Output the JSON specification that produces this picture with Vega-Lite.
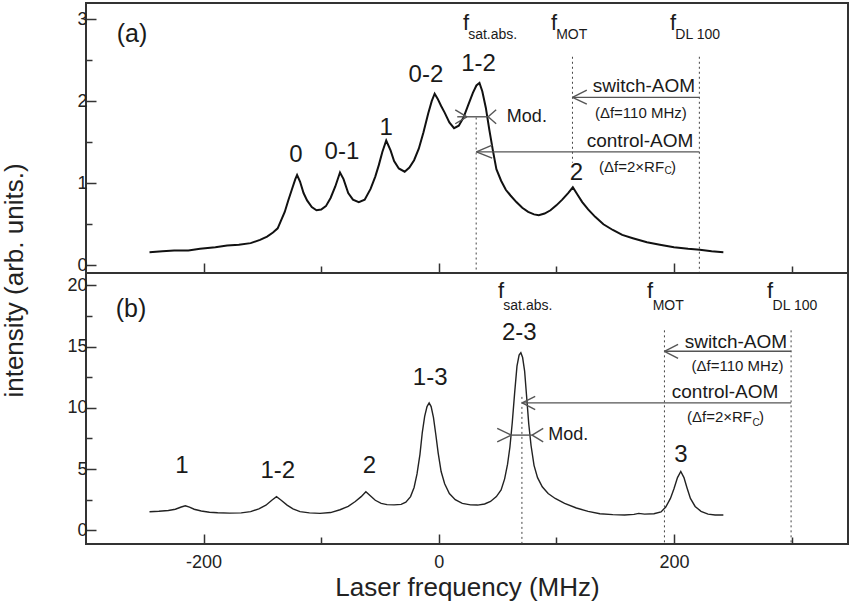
{
  "$schema": "https://vega.github.io/schema/vega-lite/v6.json",
  "padding": {"left": 0, "top": 2, "right": 0, "bottom": 0},
  "spacing": 0,
  "bounds": "flush",
  "config": {
    "font": "Liberation Sans",
    "view": {"stroke": "#333", "strokeWidth": 2},
    "axis": {
      "domain": false,
      "grid": false,
      "tickColor": "#333",
      "tickWidth": 1.5,
      "tickSize": -9,
      "labelFont": "Liberation Sans",
      "labelFontSize": 18,
      "labelColor": "#222",
      "titleFont": "Liberation Sans",
      "titleFontSize": 26,
      "titleFontWeight": "normal",
      "titleColor": "#222"
    },
    "text": {"font": "Liberation Sans", "color": "#1a1a1a"}
  },
  "datasets": {
    "specA": [
      {"f": -246, "v": 0.16}, {"f": -235, "v": 0.17}, {"f": -225, "v": 0.18}, {"f": -213, "v": 0.18},
      {"f": -203, "v": 0.2}, {"f": -190, "v": 0.22}, {"f": -180, "v": 0.24}, {"f": -170, "v": 0.25},
      {"f": -160, "v": 0.27}, {"f": -152, "v": 0.31}, {"f": -146, "v": 0.35}, {"f": -141, "v": 0.4},
      {"f": -137, "v": 0.45}, {"f": -134, "v": 0.55}, {"f": -131, "v": 0.65}, {"f": -128, "v": 0.79},
      {"f": -125, "v": 0.92}, {"f": -122, "v": 1.05}, {"f": -120.5, "v": 1.1}, {"f": -118, "v": 1.02},
      {"f": -115, "v": 0.88}, {"f": -112, "v": 0.79}, {"f": -108, "v": 0.71}, {"f": -104, "v": 0.67},
      {"f": -100, "v": 0.68}, {"f": -96, "v": 0.72}, {"f": -92, "v": 0.82}, {"f": -88, "v": 0.96},
      {"f": -84, "v": 1.13}, {"f": -81, "v": 1.05}, {"f": -77, "v": 0.88}, {"f": -73, "v": 0.8},
      {"f": -68, "v": 0.77}, {"f": -63, "v": 0.8}, {"f": -58, "v": 0.93}, {"f": -54, "v": 1.08},
      {"f": -51, "v": 1.22}, {"f": -48, "v": 1.38}, {"f": -44.7, "v": 1.52}, {"f": -41, "v": 1.4},
      {"f": -38, "v": 1.27}, {"f": -34, "v": 1.18}, {"f": -29, "v": 1.14}, {"f": -25, "v": 1.19},
      {"f": -21, "v": 1.28}, {"f": -17, "v": 1.42}, {"f": -13, "v": 1.62}, {"f": -9, "v": 1.85},
      {"f": -6, "v": 2.0}, {"f": -3.5, "v": 2.09}, {"f": -1, "v": 2.03}, {"f": 2, "v": 1.94},
      {"f": 5, "v": 1.86}, {"f": 9, "v": 1.74}, {"f": 13, "v": 1.67}, {"f": 17, "v": 1.7},
      {"f": 21, "v": 1.8}, {"f": 25, "v": 1.95}, {"f": 29, "v": 2.1}, {"f": 32, "v": 2.19},
      {"f": 34.6, "v": 2.22}, {"f": 37, "v": 2.12}, {"f": 40, "v": 1.92}, {"f": 43, "v": 1.65},
      {"f": 46, "v": 1.4}, {"f": 49, "v": 1.17}, {"f": 53, "v": 1.03}, {"f": 57, "v": 0.92},
      {"f": 61, "v": 0.85}, {"f": 66, "v": 0.77}, {"f": 71, "v": 0.7}, {"f": 76, "v": 0.65},
      {"f": 81, "v": 0.62}, {"f": 85, "v": 0.61}, {"f": 90, "v": 0.63}, {"f": 95, "v": 0.67},
      {"f": 100, "v": 0.73}, {"f": 105, "v": 0.8}, {"f": 110, "v": 0.88}, {"f": 114, "v": 0.95},
      {"f": 118, "v": 0.86}, {"f": 122, "v": 0.77}, {"f": 127, "v": 0.68}, {"f": 133, "v": 0.59},
      {"f": 140, "v": 0.5}, {"f": 148, "v": 0.43}, {"f": 156, "v": 0.37}, {"f": 165, "v": 0.33},
      {"f": 177, "v": 0.28}, {"f": 188, "v": 0.25}, {"f": 200, "v": 0.22}, {"f": 212, "v": 0.2},
      {"f": 222, "v": 0.19}, {"f": 232, "v": 0.17}, {"f": 242, "v": 0.16}
    ],
    "specB": [
      {"f": -246, "v": 1.52}, {"f": -238, "v": 1.55}, {"f": -230, "v": 1.62}, {"f": -224, "v": 1.72},
      {"f": -219, "v": 1.9}, {"f": -215.5, "v": 2.0}, {"f": -212, "v": 1.9}, {"f": -208, "v": 1.72},
      {"f": -202, "v": 1.58}, {"f": -195, "v": 1.48}, {"f": -188, "v": 1.43}, {"f": -178, "v": 1.4},
      {"f": -168, "v": 1.42}, {"f": -160, "v": 1.52}, {"f": -153, "v": 1.75}, {"f": -147, "v": 2.05},
      {"f": -142, "v": 2.45}, {"f": -138, "v": 2.74}, {"f": -134, "v": 2.45}, {"f": -129, "v": 2.06},
      {"f": -124, "v": 1.75}, {"f": -118, "v": 1.52}, {"f": -110, "v": 1.42}, {"f": -101, "v": 1.38},
      {"f": -92, "v": 1.45}, {"f": -84, "v": 1.68}, {"f": -77, "v": 1.95}, {"f": -71, "v": 2.35},
      {"f": -66, "v": 2.75}, {"f": -62, "v": 3.15}, {"f": -58, "v": 2.8}, {"f": -54, "v": 2.45},
      {"f": -49, "v": 2.2}, {"f": -44, "v": 2.1}, {"f": -38, "v": 2.08}, {"f": -32, "v": 2.12},
      {"f": -28, "v": 2.3}, {"f": -24, "v": 2.75}, {"f": -21, "v": 3.5}, {"f": -18.5, "v": 4.6},
      {"f": -16, "v": 6.2}, {"f": -14, "v": 8.0}, {"f": -12, "v": 9.3}, {"f": -10, "v": 10.1},
      {"f": -8.2, "v": 10.4}, {"f": -6.5, "v": 10.1}, {"f": -4.5, "v": 9.2}, {"f": -2.5, "v": 7.8},
      {"f": -0.5, "v": 6.3}, {"f": 2, "v": 4.8}, {"f": 5, "v": 3.8}, {"f": 9, "v": 3.0},
      {"f": 14, "v": 2.5}, {"f": 20, "v": 2.2}, {"f": 27, "v": 2.08}, {"f": 33, "v": 2.06},
      {"f": 39, "v": 2.15}, {"f": 44, "v": 2.35}, {"f": 49, "v": 2.75}, {"f": 53, "v": 3.3},
      {"f": 56, "v": 4.2}, {"f": 58.5, "v": 5.4}, {"f": 60.5, "v": 6.8}, {"f": 62.5, "v": 8.8},
      {"f": 64.5, "v": 11.2}, {"f": 66.5, "v": 13.4}, {"f": 68.3, "v": 14.3}, {"f": 69.8, "v": 14.5},
      {"f": 71.3, "v": 14.1}, {"f": 73, "v": 13.0}, {"f": 74.8, "v": 10.8}, {"f": 76.5, "v": 8.7},
      {"f": 78.5, "v": 6.9}, {"f": 81, "v": 5.3}, {"f": 84, "v": 4.3}, {"f": 88, "v": 3.55},
      {"f": 93, "v": 3.0}, {"f": 99, "v": 2.6}, {"f": 107, "v": 2.2}, {"f": 117, "v": 1.82},
      {"f": 127, "v": 1.55}, {"f": 137, "v": 1.35}, {"f": 148, "v": 1.28}, {"f": 158, "v": 1.25},
      {"f": 166, "v": 1.3}, {"f": 170, "v": 1.38}, {"f": 175, "v": 1.32}, {"f": 183, "v": 1.35},
      {"f": 189, "v": 1.5}, {"f": 193, "v": 1.9}, {"f": 197, "v": 2.6}, {"f": 200, "v": 3.4},
      {"f": 203, "v": 4.3}, {"f": 205.8, "v": 4.8}, {"f": 208.5, "v": 4.3}, {"f": 211, "v": 3.5},
      {"f": 214, "v": 2.6}, {"f": 218, "v": 1.95}, {"f": 223, "v": 1.55}, {"f": 229, "v": 1.32},
      {"f": 235, "v": 1.25}, {"f": 242, "v": 1.25}
    ],
    "dotA": [
      {"f": 31.8, "v": 1.8, "v2": -0.094},
      {"f": 113.7, "v": 2.54, "v2": 1.25},
      {"f": 221.6, "v": 2.54, "v2": -0.094}
    ],
    "dotB": [
      {"f": 70.7, "v": 10.89, "v2": -1.117},
      {"f": 191.9, "v": 16.32, "v2": -1.117},
      {"f": 299.6, "v": 16.32, "v2": -1.117}
    ],
    "segA": [
      {"f": 113.7, "v": 2.045, "f2": 221.6, "v2": 2.045},
      {"f": 113.7, "v": 2.045, "f2": 125.9, "v2": 2.134},
      {"f": 113.7, "v": 2.045, "f2": 125.9, "v2": 1.963},
      {"f": 32.0, "v": 1.382, "f2": 221.6, "v2": 1.382},
      {"f": 32.0, "v": 1.382, "f2": 45.4, "v2": 1.463},
      {"f": 32.0, "v": 1.382, "f2": 45.4, "v2": 1.305},
      {"f": 15.7, "v": 1.809, "f2": 42.0, "v2": 1.809},
      {"f": 23.9, "v": 1.809, "f2": 14.0, "v2": 1.894},
      {"f": 23.9, "v": 1.809, "f2": 14.0, "v2": 1.724},
      {"f": 42.0, "v": 1.809, "f2": 48.8, "v2": 1.894},
      {"f": 42.0, "v": 1.809, "f2": 48.8, "v2": 1.724}
    ],
    "segB": [
      {"f": 191.9, "v": 14.61, "f2": 299.6, "v2": 14.61},
      {"f": 191.9, "v": 14.61, "f2": 203.5, "v2": 15.18},
      {"f": 191.9, "v": 14.61, "f2": 203.5, "v2": 14.04},
      {"f": 70.9, "v": 10.4, "f2": 299.6, "v2": 10.4},
      {"f": 70.9, "v": 10.4, "f2": 82.0, "v2": 10.94},
      {"f": 70.9, "v": 10.4, "f2": 82.0, "v2": 9.84},
      {"f": 61.6, "v": 7.77, "f2": 79.4, "v2": 7.77},
      {"f": 61.6, "v": 7.77, "f2": 49.7, "v2": 8.32},
      {"f": 61.6, "v": 7.77, "f2": 49.7, "v2": 7.22},
      {"f": 79.4, "v": 7.77, "f2": 88.8, "v2": 8.32},
      {"f": 79.4, "v": 7.77, "f2": 88.8, "v2": 7.22}
    ],
    "textA": [
      {"f": -121.4, "v": 1.26, "label": "0", "role": "peak"},
      {"f": -82.4, "v": 1.29, "label": "0-1", "role": "peak"},
      {"f": -44.7, "v": 1.585, "label": "1", "role": "peak"},
      {"f": -10.9, "v": 2.235, "label": "0-2", "role": "peak"},
      {"f": 33.8, "v": 2.366, "label": "1-2", "role": "peak"},
      {"f": 117.1, "v": 1.037, "label": "2", "role": "peak"},
      {"f": -260.9, "v": 2.726, "label": "(a)", "role": "panel"},
      {"f": 23.3, "v": 2.866, "label": "f", "role": "freq"},
      {"f": 98.1, "v": 2.866, "label": "f", "role": "freq"},
      {"f": 199.3, "v": 2.866, "label": "f", "role": "freq"},
      {"f": 25.0, "v": 2.756, "label": "sat.abs.", "role": "sub"},
      {"f": 99.8, "v": 2.762, "label": "MOT", "role": "sub"},
      {"f": 201.2, "v": 2.762, "label": "DL 100", "role": "sub"},
      {"f": 218.0, "v": 2.113, "label": "switch-AOM", "role": "note"},
      {"f": 216.5, "v": 1.443, "label": "control-AOM", "role": "note"},
      {"f": 210.9, "v": 1.86, "label": "(Δf=110 MHz)", "role": "small"},
      {"f": 191.6, "v": 1.2, "label": "(Δf=2×RF", "role": "small"},
      {"f": 197.5, "v": 1.2, "label": ")", "role": "close"},
      {"f": 192.0, "v": 1.146, "label": "C", "role": "subc"},
      {"f": 57.9, "v": 1.809, "label": "Mod.", "role": "mod"}
    ],
    "textB": [
      {"f": -218.4, "v": 4.645, "label": "1", "role": "peak"},
      {"f": -136.9, "v": 4.24, "label": "1-2", "role": "peak"},
      {"f": -59.0, "v": 4.645, "label": "2", "role": "peak"},
      {"f": -7.3, "v": 11.84, "label": "1-3", "role": "peak"},
      {"f": 68.5, "v": 15.51, "label": "2-3", "role": "peak"},
      {"f": 205.9, "v": 5.59, "label": "3", "role": "peak"},
      {"f": -261.7, "v": 17.42, "label": "(b)", "role": "panel"},
      {"f": 52.9, "v": 18.93, "label": "f", "role": "freq"},
      {"f": 179.7, "v": 18.93, "label": "f", "role": "freq"},
      {"f": 281.7, "v": 18.93, "label": "f", "role": "freq"},
      {"f": 54.9, "v": 17.95, "label": "sat.abs.", "role": "sub"},
      {"f": 181.9, "v": 17.95, "label": "MOT", "role": "sub"},
      {"f": 283.9, "v": 17.95, "label": "DL 100", "role": "sub"},
      {"f": 296.2, "v": 14.86, "label": "switch-AOM", "role": "note"},
      {"f": 288.8, "v": 10.81, "label": "control-AOM", "role": "note"},
      {"f": 293.1, "v": 13.41, "label": "(Δf=110 MHz)", "role": "small"},
      {"f": 266.4, "v": 9.21, "label": "(Δf=2×RF", "role": "small"},
      {"f": 272.4, "v": 9.21, "label": ")", "role": "close"},
      {"f": 266.8, "v": 8.77, "label": "C", "role": "subc"},
      {"f": 93.0, "v": 7.77, "label": "Mod.", "role": "mod"}
    ]
  },
  "vconcat": [
    {
      "width": 762,
      "height": 270,
      "encoding": {
        "x": {
          "field": "f",
          "type": "quantitative",
          "scale": {"domain": [-300, 348], "nice": false, "zero": false},
          "axis": {
            "title": null,
            "labels": false,
            "values": [-200, -100, 0, 100, 200, 300],
            "tickSize": {"condition": {"test": "datum.value % 200 == 0", "value": -10}, "value": -7}
          }
        },
        "y": {
          "field": "v",
          "type": "quantitative",
          "scale": {"domain": [-0.094, 3.195], "nice": false, "zero": false},
          "axis": {
            "title": "intensity (arb. units.)",
            "values": [0, 0.5, 1, 1.5, 2, 2.5, 3],
            "labelExpr": "datum.value % 1 == 0 ? format(datum.value, 'd') : ''",
            "tickSize": {"condition": {"test": "datum.value % 1 == 0", "value": -10}, "value": -6},
            "labelPadding": 9,
            "titleX": -59,
            "titleY": 277,
            "titleAlign": "center",
            "titleBaseline": "bottom"
          }
        }
      },
      "layer": [
        {"data": {"name": "specA"}, "mark": {"type": "line", "color": "#111", "strokeWidth": 2}, "encoding": {}},
        {"data": {"name": "dotA"}, "mark": {"type": "rule", "color": "#444", "strokeWidth": 1, "strokeDash": [2, 3]}, "encoding": {"y2": {"field": "v2"}}},
        {"data": {"name": "segA"}, "mark": {"type": "rule", "color": "#555", "strokeWidth": 1.4}, "encoding": {"x2": {"field": "f2"}, "y2": {"field": "v2"}}},
        {"data": {"name": "textA"}, "transform": [{"filter": "datum.role == 'peak'"}], "mark": {"type": "text", "fontSize": 24, "align": "center", "baseline": "alphabetic"}, "encoding": {"text": {"field": "label"}}},
        {"data": {"name": "textA"}, "transform": [{"filter": "datum.role == 'panel'"}], "mark": {"type": "text", "fontSize": 25, "align": "center", "baseline": "alphabetic"}, "encoding": {"text": {"field": "label"}}},
        {"data": {"name": "textA"}, "transform": [{"filter": "datum.role == 'freq'"}], "mark": {"type": "text", "fontSize": 22, "align": "center", "baseline": "alphabetic"}, "encoding": {"text": {"field": "label"}}},
        {"data": {"name": "textA"}, "transform": [{"filter": "datum.role == 'sub'"}], "mark": {"type": "text", "fontSize": 14, "align": "left", "baseline": "alphabetic"}, "encoding": {"text": {"field": "label"}}},
        {"data": {"name": "textA"}, "transform": [{"filter": "datum.role == 'note'"}], "mark": {"type": "text", "fontSize": 19, "align": "right", "baseline": "alphabetic"}, "encoding": {"text": {"field": "label"}}},
        {"data": {"name": "textA"}, "transform": [{"filter": "datum.role == 'small'"}], "mark": {"type": "text", "fontSize": 15, "align": "right", "baseline": "middle"}, "encoding": {"text": {"field": "label"}}},
        {"data": {"name": "textA"}, "transform": [{"filter": "datum.role == 'close'"}], "mark": {"type": "text", "fontSize": 15, "align": "left", "baseline": "middle"}, "encoding": {"text": {"field": "label"}}},
        {"data": {"name": "textA"}, "transform": [{"filter": "datum.role == 'subc'"}], "mark": {"type": "text", "fontSize": 10, "align": "left", "baseline": "middle"}, "encoding": {"text": {"field": "label"}}},
        {"data": {"name": "textA"}, "transform": [{"filter": "datum.role == 'mod'"}], "mark": {"type": "text", "fontSize": 18, "align": "left", "baseline": "middle"}, "encoding": {"text": {"field": "label"}}}
      ]
    },
    {
      "width": 762,
      "height": 271,
      "encoding": {
        "x": {
          "field": "f",
          "type": "quantitative",
          "scale": {"domain": [-300, 348], "nice": false, "zero": false},
          "axis": {
            "title": "Laser frequency (MHz)",
            "values": [-200, -100, 0, 100, 200, 300],
            "labelExpr": "datum.value == -200 ? '-200' : datum.value == 0 ? '0' : datum.value == 200 ? '200' : ''",
            "tickSize": {"condition": {"test": "datum.value % 200 == 0", "value": -10}, "value": -7},
            "labelPadding": 19,
            "titlePadding": 3
          }
        },
        "y": {
          "field": "v",
          "type": "quantitative",
          "scale": {"domain": [-1.117, 21.0], "nice": false, "zero": false},
          "axis": {
            "title": null,
            "values": [0, 2.5, 5, 7.5, 10, 12.5, 15, 17.5, 20],
            "labelExpr": "datum.value % 5 == 0 ? datum.label : ''",
            "tickSize": {"condition": {"test": "datum.value % 5 == 0", "value": -10}, "value": -6},
            "labelPadding": 9
          }
        }
      },
      "layer": [
        {"data": {"name": "specB"}, "mark": {"type": "line", "color": "#222", "strokeWidth": 1.4}, "encoding": {}},
        {"data": {"name": "dotB"}, "mark": {"type": "rule", "color": "#444", "strokeWidth": 1, "strokeDash": [2, 3]}, "encoding": {"y2": {"field": "v2"}}},
        {"data": {"name": "segB"}, "mark": {"type": "rule", "color": "#555", "strokeWidth": 1.4}, "encoding": {"x2": {"field": "f2"}, "y2": {"field": "v2"}}},
        {"data": {"name": "textB"}, "transform": [{"filter": "datum.role == 'peak'"}], "mark": {"type": "text", "fontSize": 24, "align": "center", "baseline": "alphabetic"}, "encoding": {"text": {"field": "label"}}},
        {"data": {"name": "textB"}, "transform": [{"filter": "datum.role == 'panel'"}], "mark": {"type": "text", "fontSize": 25, "align": "center", "baseline": "alphabetic"}, "encoding": {"text": {"field": "label"}}},
        {"data": {"name": "textB"}, "transform": [{"filter": "datum.role == 'freq'"}], "mark": {"type": "text", "fontSize": 22, "align": "center", "baseline": "alphabetic"}, "encoding": {"text": {"field": "label"}}},
        {"data": {"name": "textB"}, "transform": [{"filter": "datum.role == 'sub'"}], "mark": {"type": "text", "fontSize": 14, "align": "left", "baseline": "alphabetic"}, "encoding": {"text": {"field": "label"}}},
        {"data": {"name": "textB"}, "transform": [{"filter": "datum.role == 'note'"}], "mark": {"type": "text", "fontSize": 19, "align": "right", "baseline": "alphabetic"}, "encoding": {"text": {"field": "label"}}},
        {"data": {"name": "textB"}, "transform": [{"filter": "datum.role == 'small'"}], "mark": {"type": "text", "fontSize": 15, "align": "right", "baseline": "middle"}, "encoding": {"text": {"field": "label"}}},
        {"data": {"name": "textB"}, "transform": [{"filter": "datum.role == 'close'"}], "mark": {"type": "text", "fontSize": 15, "align": "left", "baseline": "middle"}, "encoding": {"text": {"field": "label"}}},
        {"data": {"name": "textB"}, "transform": [{"filter": "datum.role == 'subc'"}], "mark": {"type": "text", "fontSize": 10, "align": "left", "baseline": "middle"}, "encoding": {"text": {"field": "label"}}},
        {"data": {"name": "textB"}, "transform": [{"filter": "datum.role == 'mod'"}], "mark": {"type": "text", "fontSize": 18, "align": "left", "baseline": "middle"}, "encoding": {"text": {"field": "label"}}}
      ]
    }
  ]
}
